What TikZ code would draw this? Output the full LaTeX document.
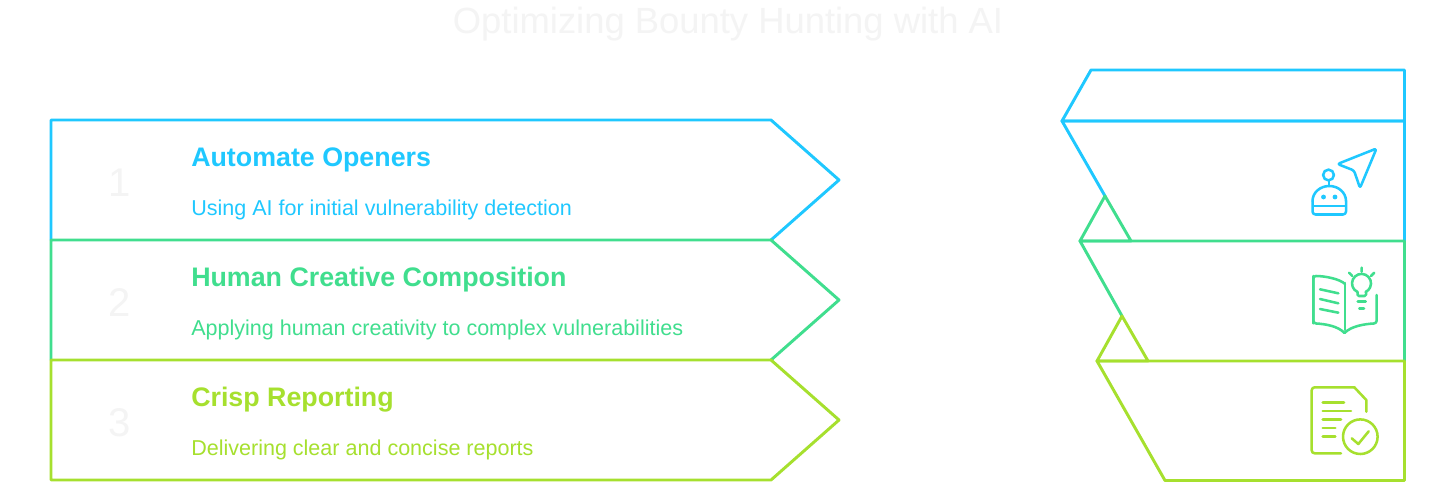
\documentclass[tikz,border=0pt]{standalone}
\usepackage{fontspec}
\setmainfont{Liberation Sans}
\definecolor{cblue}{HTML}{1FC8FF}
\definecolor{cgreen}{HTML}{40DE8E}
\definecolor{clime}{HTML}{A6E02E}
\definecolor{cfaint}{HTML}{F4F4F4}
\tikzset{
  outline/.style={draw=#1,line width=2.2pt,line join=round,line cap=round},
  icon/.style={draw=#1,line width=1.9pt,line join=round,line cap=round},
  headtext/.style={anchor=base west,inner sep=0pt,font=\fontsize{20.1pt}{24pt}\selectfont\bfseries,text=#1},
  desctext/.style={anchor=base west,inner sep=0pt,font=\fontsize{16.15pt}{19pt}\selectfont,text=#1},
  numtext/.style={anchor=center,inner sep=0pt,font=\fontsize{30pt}{36pt}\selectfont,text=cfaint},
}
\begin{document}
\begin{tikzpicture}[x=0.75pt,y=-0.75pt]
\useasboundingbox (0,0) rectangle (1456,489);
\fill[white] (0,0) rectangle (1456,489);

\node[anchor=base,inner sep=0pt,text=cfaint,font=\fontsize{27.3pt}{32pt}\selectfont] (title) at (728,33) {Optimizing Bounty Hunting with AI};

% left arrows
\draw[outline=cblue] (51,240) -- (51,120) -- (771,120) -- (839,180) -- (771,240);
\draw[outline=cgreen] (51,360) -- (51,240) -- (771,240) -- (839,300) -- (771,360);
\draw[outline=clime] (51,360) -- (771,360) -- (839,420) -- (771,480) -- (51,480) -- cycle;

\node[numtext] (n1) at (120,183) {1};
\node[numtext] (n2) at (120,303) {2};
\node[numtext] (n3) at (120,423) {3};

\node[headtext=cblue] (h1) at (191,166.5) {Automate Openers};
\node[desctext=cblue] (d1) at (191,215) {Using AI for initial vulnerability detection};
\node[headtext=cgreen] (h2) at (191,286.5) {Human Creative Composition};
\node[desctext=cgreen] (d2) at (191,335) {Applying human creativity to complex vulnerabilities};
\node[headtext=clime] (h3) at (191,406.5) {Crisp Reporting};
\node[desctext=clime] (d3) at (191,455) {Delivering clear and concise reports};

% right stack
\draw[outline=cblue] (1062,121) -- (1091,70) -- (1404.5,70) -- (1404.5,121) -- cycle;
\draw[outline=cblue] (1105,196) -- (1062,121) -- (1404.5,121) -- (1404.5,241);
\draw[outline=cgreen] (1131,241) -- (1105,196) -- (1080,241) -- cycle;
\draw[outline=cgreen] (1122,316) -- (1080,241) -- (1404.5,241) -- (1404.5,361);
\draw[outline=clime] (1148,361) -- (1122,316) -- (1097,361) -- cycle;
\draw[outline=clime] (1097,361) -- (1165,480.5) -- (1404.5,480.5) -- (1404.5,361) -- cycle;

% robot icon
\draw[icon=cblue] (1313,206) -- (1345,206);
\draw[icon=cblue,rounded corners=2.2pt] (1312.5,201) -- (1312.5,214.5) -- (1346,214.5) -- (1346,201);
\draw[icon=cblue] (1312.5,201) arc[start angle=180,end angle=0,x radius=16.75,y radius=-15];
\draw[icon=cblue] (1329,180.5) -- (1329,186);
\draw[icon=cblue] (1328.5,175) circle[radius=5.4];
\fill[cblue] (1323.5,197) circle[radius=2.4] (1335,197) circle[radius=2.4];
\draw[icon=cblue,rounded corners=1.8pt] (1376.5,148.5) -- (1337.5,164) -- (1354,170.5) -- (1360,188) -- cycle;

% book icon
\draw[icon=cgreen] (1345,283) -- (1345,330);
\draw[icon=cgreen,rounded corners=2pt] (1345,284) .. controls (1340,279) and (1325,276) .. (1313.3,276) -- (1313.3,323.3);
\draw[icon=cgreen,rounded corners=2pt] (1313.3,276) -- (1313.3,323.3) .. controls (1325,324) and (1338,326) .. (1344.5,333);
\draw[icon=cgreen,rounded corners=2pt] (1344.5,333) .. controls (1351,326) and (1365,324) .. (1376.7,323.3) -- (1376.7,295);
\draw[icon=cgreen] (1320,289.3) -- (1338.3,293.3) (1320,299) -- (1338.3,303.3) (1320,309) -- (1338.3,312.7);
\draw[icon=cgreen,rounded corners=1pt] (1357.5,292) -- (1357.5,296) -- (1366,296) -- (1366,292);
\draw[icon=cgreen] (1357.5,292) arc[start angle=245,end angle=-65,x radius=9.5,y radius=-9.5];
\draw[icon=cgreen] (1357.7,301.7) -- (1365.7,301.7) (1359.3,308.3) -- (1364,308.3);
\draw[icon=cgreen] (1361.7,267.7) -- (1361.7,271.7) (1349,272.7) -- (1352.3,276) (1374.3,272.7) -- (1371,276);

% document icon
\draw[icon=clime,rounded corners=2.2pt] (1341,453.3) -- (1311.7,453.3) -- (1311.7,387.3) -- (1354.3,387.3);
\draw[icon=clime] (1354.3,387.3) -- (1366.3,400) -- (1366.3,411.7);
\draw[icon=clime] (1322.7,402.3) -- (1344,402.3) (1322.7,411) -- (1351,411) (1322.7,419.3) -- (1341,419.3) (1322.7,428) -- (1335.3,428) (1322.7,436.3) -- (1335.3,436.3);
\draw[icon=clime] (1360.3,436.7) circle[radius=17.3];
\draw[icon=clime] (1351.7,438.3) -- (1358.3,444) -- (1368.7,431.3);
\end{tikzpicture}
\end{document}
